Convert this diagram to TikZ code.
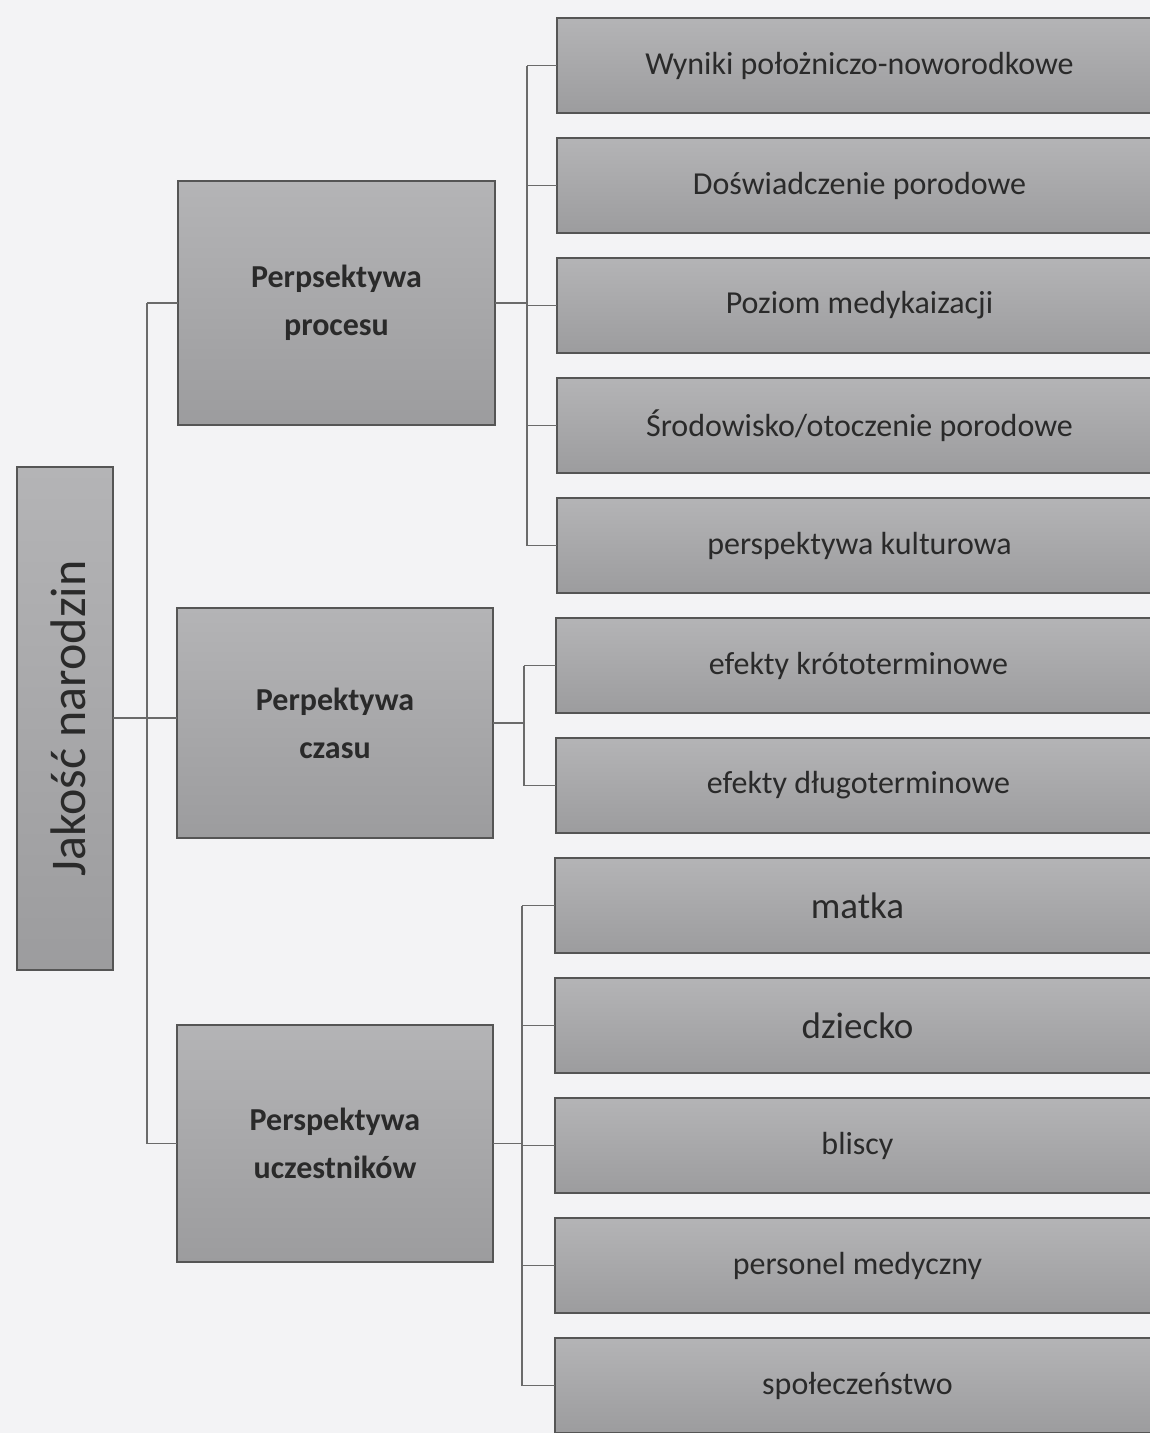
\documentclass[tikz,border=0pt]{standalone}
\usepackage{fontspec}
\setmainfont{Carlito}
\definecolor{bg}{HTML}{F3F3F5}
\definecolor{ln}{HTML}{6A6A6A}
\definecolor{bd}{HTML}{555555}
\definecolor{txt}{HTML}{2A2A2A}
\definecolor{ftop}{HTML}{B4B4B6}
\definecolor{fbot}{HTML}{9C9C9E}
\tikzset{
  box/.style={draw=bd, line width=1.8pt, top color=ftop, bottom color=fbot,
    inner sep=0pt, outer sep=0pt, anchor=north west, text=txt, align=center},
  leaf/.style={box, minimum width=605pt, minimum height=95pt, font=\fontsize{32}{36}\selectfont},
  mid/.style={box, font=\bfseries\fontsize{32}{48}\selectfont},
  conn/.style={draw=ln, line width=1.6pt}
}
\begin{document}
\begin{tikzpicture}[x=1pt,y=-1pt]
\clip (0,0) rectangle (1150,1433);
\fill[bg] (0,0) rectangle (1150,1433);
% root
\node[box, minimum width=96pt, minimum height=503pt] (root) at (17,467) {};
\node[rotate=90, text=txt, font=\fontsize{50}{54}\selectfont] at ([xshift=3pt]root.center) {Jakość narodzin};
% level 1
\node[mid, minimum width=317pt, minimum height=244pt] (p1) at (178,181) {Perpsektywa\\procesu};
\node[mid, minimum width=316pt, minimum height=230pt] (p2) at (177,608) {Perpektywa\\czasu};
\node[mid, minimum width=316pt, minimum height=237pt] (p3) at (177,1025) {Perspektywa\\uczestników};
% level 2
\node[leaf] (a1) at (557,18) {Wyniki położniczo-noworodkowe};
\node[leaf] (a2) at (557,138) {Doświadczenie porodowe};
\node[leaf] (a3) at (557,258) {Poziom medykaizacji};
\node[leaf] (a4) at (557,378) {Środowisko/otoczenie porodowe};
\node[leaf] (a5) at (557,498) {perspektywa kulturowa};
\node[leaf] (b1) at (556,618) {efekty krótoterminowe};
\node[leaf] (b2) at (556,738) {efekty długoterminowe};
\node[leaf, font=\fontsize{37}{40}\selectfont] (c1) at (555,858) {matka};
\node[leaf, font=\fontsize{37}{40}\selectfont] (c2) at (555,978) {dziecko};
\node[leaf] (c3) at (555,1098) {bliscy};
\node[leaf] (c4) at (555,1218) {personel medyczny};
\node[leaf] (c5) at (555,1338) {społeczeństwo};
% trunk
\coordinate (t0) at (147,718);
\draw[conn] (root.east |- t0) -- (p2.west |- t0);
\draw[conn] (t0 |- p1.west) -- (t0 |- p3.west);
\draw[conn] (t0 |- p1.west) -- (p1.west);
\draw[conn] (t0 |- p3.west) -- (p3.west);
% group 1
\coordinate (g1) at (527,0);
\draw[conn] (p1.east) -- (g1 |- p1.east);
\draw[conn] (g1 |- a1.west) -- (g1 |- a5.west);
\foreach \n in {a1,a2,a3,a4,a5} \draw[conn] (g1 |- \n.west) -- (\n.west);
% group 2
\coordinate (g2) at (524,0);
\draw[conn] (p2.east) -- (g2 |- p2.east);
\draw[conn] (g2 |- b1.west) -- (g2 |- b2.west);
\foreach \n in {b1,b2} \draw[conn] (g2 |- \n.west) -- (\n.west);
% group 3
\coordinate (g3) at (522,0);
\draw[conn] (p3.east) -- (g3 |- p3.east);
\draw[conn] (g3 |- c1.west) -- (g3 |- c5.west);
\foreach \n in {c1,c2,c3,c4,c5} \draw[conn] (g3 |- \n.west) -- (\n.west);
\end{tikzpicture}
\end{document}
